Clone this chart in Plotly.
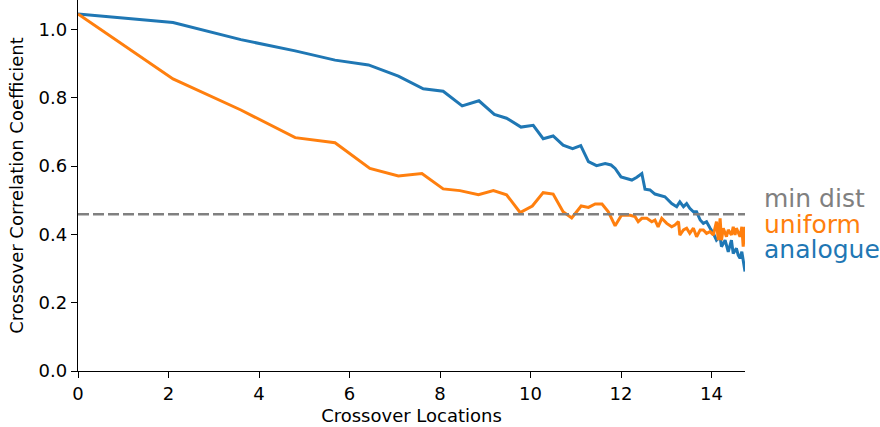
import plotly.graph_objects as go

# ---- data ----
x_analogue = [0, 2.1, 3.6, 4.8, 5.68, 6.42, 7.08, 7.63, 8.07, 8.49,
              8.86, 9.2, 9.47, 9.79, 10.06, 10.28, 10.5, 10.72, 10.93, 11.11,
              11.28, 11.46, 11.65, 11.78, 11.87, 12.0, 12.24, 12.35, 12.46, 12.53,
              12.64, 12.75, 12.97, 13.12, 13.23, 13.3, 13.38, 13.45, 13.52, 13.6,
              13.67, 13.75, 13.82, 13.89, 13.97, 14.04, 14.11, 14.19, 14.22, 14.3,
              14.37, 14.44, 14.48, 14.55, 14.59, 14.63, 14.67, 14.7, 14.74]
y_analogue = [1.045, 1.02, 0.970, 0.937, 0.910, 0.896, 0.863, 0.826, 0.819, 0.776,
              0.791, 0.751, 0.740, 0.714, 0.719, 0.680, 0.688, 0.661, 0.651, 0.660,
              0.613, 0.601, 0.607, 0.603, 0.593, 0.568, 0.559, 0.567, 0.578, 0.532,
              0.530, 0.518, 0.510, 0.490, 0.481, 0.495, 0.481, 0.490, 0.476, 0.466,
              0.466, 0.442, 0.432, 0.437, 0.418, 0.403, 0.383, 0.393, 0.364, 0.383,
              0.349, 0.383, 0.344, 0.359, 0.339, 0.330, 0.349, 0.320, 0.291]

x_uniform = [0, 2.1, 3.6, 4.8, 5.68, 6.45, 7.08, 7.6, 8.07, 8.44,
             8.85, 9.18, 9.47, 9.77, 10.04, 10.28, 10.5, 10.72, 10.91, 11.12,
             11.28, 11.43, 11.58, 11.72, 11.87, 12.01, 12.2, 12.31, 12.38, 12.46,
             12.57, 12.68, 12.75, 12.82, 12.9, 13.01, 13.12, 13.19, 13.27, 13.3,
             13.38, 13.45, 13.52, 13.6, 13.67, 13.75, 13.82, 13.89, 13.97, 14.04,
             14.11, 14.15, 14.19, 14.22, 14.26, 14.33, 14.37, 14.44, 14.48, 14.52,
             14.55, 14.63, 14.67, 14.7, 14.74]
y_uniform = [1.045, 0.855, 0.764, 0.683, 0.668, 0.593, 0.571, 0.578, 0.533, 0.528,
             0.516, 0.528, 0.516, 0.464, 0.483, 0.522, 0.518, 0.466, 0.448, 0.483,
             0.479, 0.489, 0.489, 0.466, 0.425, 0.456, 0.456, 0.452, 0.437, 0.447,
             0.447, 0.437, 0.442, 0.422, 0.447, 0.432, 0.422, 0.427, 0.437, 0.398,
             0.413, 0.418, 0.403, 0.418, 0.393, 0.413, 0.413, 0.403, 0.408, 0.398,
             0.437, 0.383, 0.447, 0.383, 0.418, 0.393, 0.413, 0.398, 0.422, 0.398,
             0.418, 0.393, 0.422, 0.364, 0.422]

min_dist = 0.459

series_labels = ["min dist", "uniform", "analogue"]
label_y = [0.506, 0.428, 0.355]
x_ticks = [0, 2, 4, 6, 8, 10, 12, 14]
y_ticks = [0.0, 0.2, 0.4, 0.6, 0.8, 1.0]
x_max = 14.74
y_max = 1.086

BLUE = "#1f77b4"
ORANGE = "#ff7f0e"
GREY = "#808080"
FONT = "DejaVu Sans"

fig = go.Figure()
fig.add_trace(go.Scatter(x=x_analogue, y=y_analogue, mode="lines",
                         line=dict(color=BLUE, width=3), name="analogue"))
fig.add_trace(go.Scatter(x=x_uniform, y=y_uniform, mode="lines",
                         line=dict(color=ORANGE, width=3), name="uniform"))
fig.add_shape(type="line", xref="paper", yref="y", x0=0, x1=1,
              y0=min_dist, y1=min_dist,
              line=dict(color=GREY, width=2.4, dash="11px,4px"))

for text, yv, col in zip(series_labels, label_y, [GREY, ORANGE, BLUE]):
    fig.add_annotation(x=1.026, xref="paper", y=yv, yref="y", text=text,
                       showarrow=False, xanchor="left", yanchor="middle",
                       font=dict(family=FONT, size=25, color=col))

axis_common = dict(showgrid=False, zeroline=False, showline=True,
                   linecolor="black", linewidth=1.4, ticks="outside",
                   ticklen=6, tickwidth=1.4, tickcolor="black",
                   tickfont=dict(family=FONT, size=18, color="black"))

fig.update_xaxes(range=[0, x_max], tickvals=x_ticks,
                 ticktext=[str(v) for v in x_ticks],
                 title=dict(text="Crossover Locations",
                            font=dict(family=FONT, size=18, color="black"),
                            standoff=6),
                 **axis_common)
fig.update_yaxes(range=[0, y_max], tickvals=y_ticks,
                 ticktext=[f"{v:.1f}" for v in y_ticks],
                 title=dict(text="Crossover Correlation Coefficient",
                            font=dict(family=FONT, size=18, color="black"),
                            standoff=10),
                 **axis_common)

fig.update_layout(width=880, height=427,
                  margin=dict(l=78, r=135, t=0, b=56, autoexpand=False),
                  plot_bgcolor="white", paper_bgcolor="white",
                  showlegend=False, font=dict(family=FONT))

fig.write_html("out.html")
